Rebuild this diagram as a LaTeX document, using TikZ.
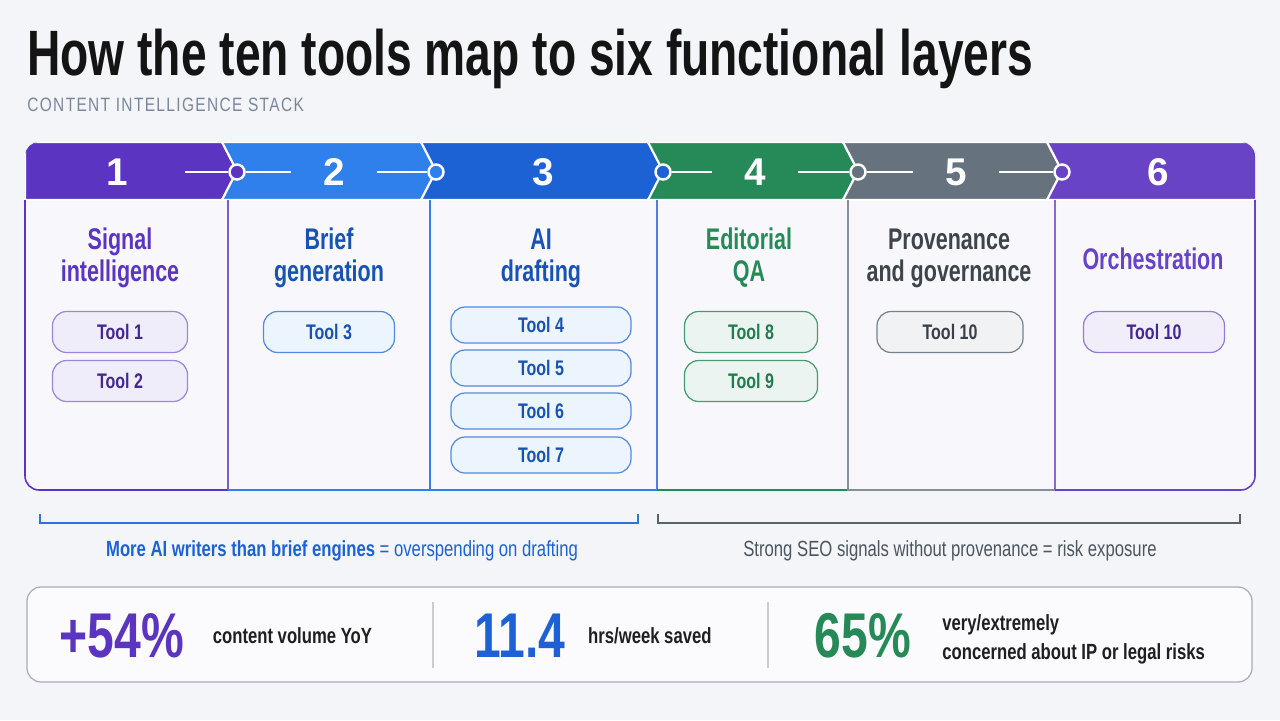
\documentclass[tikz,border=0pt]{standalone}
\usepackage{fontspec}
\setmainfont{Liberation Sans}[FakeStretch=0.76]
\newfontfamily\headfont{Liberation Sans}[FakeStretch=0.72]
\newfontfamily\numfont{Liberation Sans}
\newfontfamily\capsfont{Liberation Sans}[FakeStretch=0.8,LetterSpace=7]
\usetikzlibrary{positioning}
\definecolor{bg}{HTML}{F4F5F9}
\definecolor{bodyc}{HTML}{F8F8FC}
\definecolor{csub}{HTML}{7A879A}
\definecolor{cpa}{HTML}{5B35C2}
\definecolor{cbl}{HTML}{2F80EA}
\definecolor{cbd}{HTML}{1C62D4}
\definecolor{cgr}{HTML}{268A58}
\definecolor{csl}{HTML}{66737F}
\definecolor{cpb}{HTML}{6843C6}
\tikzset{
  hdr/.style={draw=white,line width=1.2pt},
  num/.style={font=\numfont\bfseries\fontsize{22}{24}\selectfont,text=white,inner sep=0pt,minimum width=1.7cm},
  jn/.style={circle,draw=white,line width=1.4pt,minimum size=0.3cm,inner sep=0pt},
  lnk/.style={draw=white,line width=1pt},
  bd/.style={line width=0.9pt},
  ttl/.style={font=\headfont\bfseries\fontsize{36.5}{40}\selectfont,text=black!92},
  sub/.style={font=\capsfont\fontsize{11}{12}\selectfont,text=csub},
  lay/.style={font=\headfont\bfseries\fontsize{17}{18.2}\selectfont,align=center},
  pill/.style={rounded corners=8pt,line width=0.7pt,minimum height=0.82cm,inner sep=0pt,
    font=\bfseries\fontsize{12}{14}\selectfont},
  ppa/.style={pill,draw=cpa!60,fill=cpa!9,text=cpa!75!black},
  pbl/.style={pill,draw=cbd!75,fill=cbl!9,text=cbd!85!black},
  pgr/.style={pill,draw=cgr!85,fill=cgr!9,text=cgr!90!black},
  psl/.style={pill,draw=csl!90,fill=csl!9,text=csl!55!black},
  brk/.style={line width=0.9pt},
  note/.style={font=\fontsize{12.5}{14}\selectfont},
  big/.style={font=\bfseries\fontsize{36}{40}\selectfont,inner sep=0pt},
  stl/.style={font=\bfseries\fontsize{12.5}{15}\selectfont,text=black!88,inner sep=0pt},
}
\begin{document}
\begin{tikzpicture}[x=0.02cm,y=-0.02cm]
\useasboundingbox[fill=bg] (0,0) rectangle (1280,720);
% ============================= heading
\node[ttl,anchor=base west,inner sep=0pt] (title) at (27,75)
  {How the ten tools map to six functional layers};
\node[sub,anchor=base west,inner sep=0pt] (subtitle) at (27,111)
  {CONTENT INTELLIGENCE STACK};
% ============================= layer panel
\begin{scope}
  \clip[rounded corners=8pt] (25,142) rectangle (1255,490);
  \fill[bodyc] (25,200) rectangle (1255,490);
  \path[hdr,fill=cpa] (25,142) -- (222,142) -- (237,171) -- (222,200) -- (25,200) -- cycle;
  \path[hdr,fill=cbl] (222,142) -- (421,142) -- (436,171) -- (421,200) -- (222,200) -- (237,171) -- cycle;
  \path[hdr,fill=cbd] (421,142) -- (648,142) -- (663,171) -- (648,200) -- (421,200) -- (436,171) -- cycle;
  \path[hdr,fill=cgr] (648,142) -- (843,142) -- (858,171) -- (843,200) -- (648,200) -- (663,171) -- cycle;
  \path[hdr,fill=csl] (843,142) -- (1047,142) -- (1062,171) -- (1047,200) -- (843,200) -- (858,171) -- cycle;
  \path[hdr,fill=cpb] (1047,142) -- (1262,142) -- (1262,200) -- (1047,200) -- (1062,171) -- cycle;
\end{scope}
\draw[bd,draw=cpa] (25,200) [rounded corners=8pt] -- (25,490) -- (228,490);
\draw[bd,draw=cpa!80] (228,200) -- (228,490);
\draw[bd,draw=cbl] (228,490) -- (430,490);
\draw[bd,draw=cbl] (430,200) -- (430,490) -- (657,490);
\draw[bd,draw=cbd!80] (657,200) -- (657,490);
\draw[bd,draw=cgr] (657,490) -- (848,490);
\draw[bd,draw=csl!80] (848,200) -- (848,490) -- (1055,490);
\draw[bd,draw=cpb!80] (1055,200) -- (1055,490);
\draw[bd,draw=cpb] (1055,490) [rounded corners=8pt] -- (1255,490) -- (1255,200);
% numbers and junctions
\node[num] (n1) at (117,172) {1};
\node[num] (n2) at (334,172) {2};
\node[num] (n3) at (543,172) {3};
\node[num] (n4) at (755,172) {4};
\node[num] (n5) at (956,172) {5};
\node[num] (n6) at (1158,172) {6};
\node[jn,fill=cpa] (j12) at (237,172) {};
\node[jn,fill=cbl] (j23) at (436,172) {};
\node[jn,fill=cbd] (j34) at (663,172) {};
\node[jn,fill=csl] (j45) at (858,172) {};
\node[jn,fill=cpb] (j56) at (1062,172) {};
\draw[lnk,shorten <=0.5cm] (n1) -- (j12);
\draw[lnk] (j12) -- (n2);
\draw[lnk] (n2) -- (j23);
\draw[lnk] (j34) -- (n4);
\draw[lnk] (n4) -- (j45) -- (n5) -- (j56);
% layer names
\node[lay,text=cpa] (l1) at (120,258) {Signal\\intelligence};
\node[lay,text=cbd!85!black] (l2) at (329,258) {Brief\\generation};
\node[lay,text=cbd!85!black] (l3) at (541,258) {AI\\drafting};
\node[lay,text=cgr] (l4) at (749,258) {Editorial\\QA};
\node[lay,text=csl!60!black] (l5) at (949,258) {Provenance\\and governance};
\node[lay,text=cpb] (l6) at (1153,259) {Orchestration};
% tools
\node[ppa,minimum width=2.7cm] (t1) at (120,332) {Tool 1};
\node[ppa,minimum width=2.7cm] (t2) at (120,381) {Tool 2};
\node[pbl,minimum width=2.62cm] (t3) at (329,332) {Tool 3};
\node[pbl,minimum width=3.6cm,minimum height=0.72cm] (t4) at (541,325) {Tool 4};
\node[pbl,minimum width=3.6cm,minimum height=0.72cm] (t5) at (541,368) {Tool 5};
\node[pbl,minimum width=3.6cm,minimum height=0.72cm] (t6) at (541,411) {Tool 6};
\node[pbl,minimum width=3.6cm,minimum height=0.72cm] (t7) at (541,455) {Tool 7};
\node[pgr,minimum width=2.66cm] (t8) at (751,332) {Tool 8};
\node[pgr,minimum width=2.66cm] (t9) at (751,381) {Tool 9};
\node[psl,minimum width=2.92cm] (t10) at (950,332) {Tool 10};
\node[ppa,draw=cpb!70,fill=cpb!9,minimum width=2.82cm] (t10b) at (1154,332) {Tool 10};
% ============================= brackets
\draw[brk,draw=cbd!90] (40,514) -- (40,523) -- (638,523) -- (638,514);
\draw[brk,draw=csl!85!black] (658,514) -- (658,523) -- (1240,523) -- (1240,514);
\node[note,text=cbd] (note1) at (342,551)
  {\bfseries More AI writers than brief engines\mdseries{} = overspending on drafting};
\node[note,text=csl!75!black] (note2) at (950,551)
  {Strong SEO signals without provenance = risk exposure};
% ============================= figures
\draw[rounded corners=8pt,draw=black!25!blue!10!gray!60,fill=white!60!bg,line width=0.7pt]
  (27,587) rectangle (1252,682);
\draw[draw=gray!40,line width=0.6pt] (433,602) -- (433,668);
\draw[draw=gray!40,line width=0.6pt] (768,602) -- (768,668);
\node[big,text=cpa] (s1) at (122,636) {+54\%};
\node[stl,right=0.56cm of s1] (d1) {content volume YoY};
\node[big,text=cbd] (s2) at (520,636) {11.4};
\node[stl,right=0.44cm of s2] (d2) {hrs/week saved};
\node[big,text=cgr] (s3) at (863,636) {65\%};
\node[stl,anchor=base west] (d3) at (942,630) {very/extremely};
\node[stl,anchor=base west] (d3b) at (942,659) {concerned about IP or legal risks};
\end{tikzpicture}
\end{document}
